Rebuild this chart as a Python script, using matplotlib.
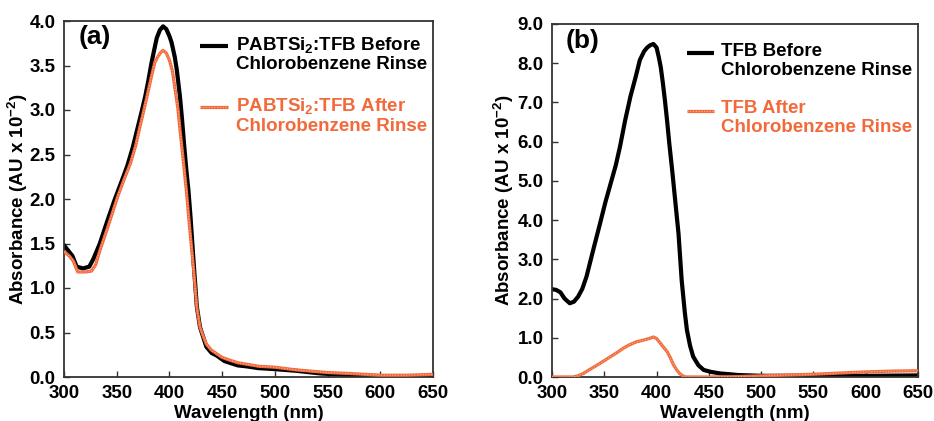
import matplotlib
matplotlib.use("Agg")
import matplotlib.pyplot as plt

plt.rcParams['font.family'] = ['Liberation Sans', 'DejaVu Sans']
plt.rcParams['font.weight'] = 'bold'
plt.rcParams['mathtext.fontset'] = 'custom'
plt.rcParams['mathtext.rm'] = 'Liberation Sans:bold'
plt.rcParams['mathtext.bf'] = 'Liberation Sans:bold'
plt.rcParams['mathtext.default'] = 'bf'

# ---------------- data ----------------
# Panel (a): PABTSi2:TFB
wl_a_before = [300, 304, 308, 312, 318, 324, 328, 334, 341, 348, 355, 360, 365, 369, 373, 377, 380, 383, 386, 388, 391, 394, 397, 400, 402, 405, 407, 410, 412, 414, 416, 418, 420, 423, 426, 429, 432, 435, 440, 445, 452, 457, 465, 473, 484, 498, 520, 543, 571, 600, 625, 650]
abs_a_before = [1.48, 1.42, 1.36, 1.24, 1.22, 1.24, 1.33, 1.50, 1.75, 1.99, 2.21, 2.37, 2.57, 2.76, 2.95, 3.15, 3.33, 3.53, 3.70, 3.81, 3.90, 3.94, 3.91, 3.83, 3.76, 3.60, 3.45, 3.15, 2.89, 2.60, 2.33, 2.10, 1.80, 1.28, 0.79, 0.56, 0.45, 0.34, 0.27, 0.24, 0.18, 0.16, 0.13, 0.12, 0.10, 0.09, 0.07, 0.04, 0.02, 0.01, 0.01, 0.01]
wl_a_after = [300, 305, 309, 313, 320, 326, 330, 334, 342, 351, 357, 363, 368, 372, 376, 380, 383, 386, 389, 392, 394, 397, 400, 403, 405, 408, 410, 413, 416, 419, 423, 426, 429, 432, 435, 440, 445, 450, 457, 465, 475, 485, 500, 520, 550, 570, 600, 625, 650]
abs_a_after = [1.41, 1.36, 1.30, 1.18, 1.18, 1.19, 1.26, 1.42, 1.70, 2.03, 2.22, 2.40, 2.60, 2.81, 3.01, 3.22, 3.38, 3.53, 3.60, 3.65, 3.67, 3.64, 3.56, 3.43, 3.26, 3.02, 2.78, 2.45, 2.10, 1.70, 1.20, 0.78, 0.56, 0.46, 0.37, 0.30, 0.26, 0.22, 0.19, 0.16, 0.14, 0.12, 0.11, 0.08, 0.05, 0.04, 0.02, 0.02, 0.03]

# Panel (b): TFB
wl_b_before = [300, 304, 308, 312, 317, 321, 325, 329, 333, 340, 346, 351, 357, 361, 365, 370, 375, 380, 384, 388, 391, 394, 397, 400, 402, 404, 406, 408, 410, 412, 415, 418, 421, 424, 427, 429, 432, 435, 440, 445, 452, 461, 470, 478, 490, 500, 550, 600, 650]
abs_b_before = [2.24, 2.22, 2.16, 2.00, 1.88, 1.92, 2.05, 2.25, 2.56, 3.30, 3.92, 4.45, 5.02, 5.40, 5.87, 6.55, 7.15, 7.65, 8.08, 8.30, 8.40, 8.46, 8.49, 8.40, 8.17, 7.90, 7.50, 7.05, 6.55, 6.00, 5.25, 4.45, 3.65, 2.47, 1.65, 1.20, 0.80, 0.52, 0.30, 0.18, 0.13, 0.09, 0.07, 0.05, 0.04, 0.03, 0.03, 0.03, 0.04]
wl_b_after = [300, 310, 320, 325, 330, 336, 343, 349, 356, 362, 368, 374, 381, 386, 390, 394, 397, 400, 403, 406, 410, 413, 416, 419, 422, 425, 428, 435, 450, 475, 500, 525, 550, 575, 600, 625, 650]
abs_b_after = [0.00, 0.00, 0.00, 0.03, 0.09, 0.19, 0.30, 0.40, 0.52, 0.62, 0.73, 0.82, 0.90, 0.93, 0.96, 0.99, 1.02, 0.98, 0.88, 0.78, 0.65, 0.50, 0.32, 0.19, 0.09, 0.03, 0.00, 0.00, 0.00, 0.01, 0.03, 0.05, 0.07, 0.10, 0.13, 0.15, 0.16]

xticks = [300, 350, 400, 450, 500, 550, 600, 650]
yticks_a = [0.0, 0.5, 1.0, 1.5, 2.0, 2.5, 3.0, 3.5, 4.0]
yticks_b = [0.0, 1.0, 2.0, 3.0, 4.0, 5.0, 6.0, 7.0, 8.0, 9.0]

labels_a = [r'PABTSi$_2$:TFB Before' + '\nChlorobenzene Rinse',
            r'PABTSi$_2$:TFB After' + '\nChlorobenzene Rinse']
labels_b = ['TFB Before\nChlorobenzene Rinse', 'TFB After\nChlorobenzene Rinse']

BLACK = '#000000'
ORANGE = '#f26a3b'
ORANGE_LIGHT = '#f9b08f'

W, H = 934, 421
fig = plt.figure(figsize=(W / 100, H / 100), dpi=100)
ax_a = fig.add_axes([64 / W, 1 - 377 / H, (433 - 64) / W, (377 - 21) / H])
ax_b = fig.add_axes([552 / W, 1 - 377 / H, (918 - 552) / W, (377 - 24) / H])


def style(ax, yticks, ymax, xlab_y, ylab_x):
    ax.set_xlim(300, 650)
    ax.set_ylim(0, ymax)
    ax.set_xticks(xticks)
    ax.set_xticklabels([str(v) for v in xticks])
    ax.set_yticks(yticks)
    ax.set_yticklabels(['%.1f' % v for v in yticks])
    ax.tick_params(axis='both', direction='in', length=4, width=1, labelsize=13.5, colors='#333333',
                   labelcolor='black')
    ax.tick_params(axis='x', pad=5.5)
    ax.tick_params(axis='y', pad=6)
    for lab in ax.get_xticklabels() + ax.get_yticklabels():
        lab.set_fontweight('bold')
    for s in ax.spines.values():
        s.set_linewidth(1.3)
        s.set_color('#333333')
    ax.set_xlabel('Wavelength (nm)', fontsize=13.5, fontweight='bold')
    ax.set_ylabel(r'Absorbance (AU x 10$^{-2}$)', fontsize=13.5, fontweight='bold')
    ax.xaxis.set_label_coords(0.5, xlab_y)
    ax.yaxis.set_label_coords(ylab_x, 0.5)


def orange_line(ax, x, y, **kw):
    ax.plot(x, y, color=ORANGE, lw=2.3, solid_capstyle='butt', zorder=3, **kw)
    ax.plot(x, y, color=ORANGE_LIGHT, lw=0.8, ls=(0, (1, 1.5)), zorder=4, **kw)


def legend_entry(ax, x0, x1, yline, ytext, label, color, orange=False):
    if orange:
        orange_line(ax, [x0, x1], [yline, yline], transform=ax.transAxes, clip_on=False)
    else:
        ax.plot([x0, x1], [yline, yline], color=color, lw=3, transform=ax.transAxes,
                clip_on=False, solid_capstyle='butt')
    ax.text(x1 + 0.02, ytext, label, color=color, transform=ax.transAxes, fontsize=13.5,
            fontweight='bold', va='top', ha='left', linespacing=1.15)


# Panel (a)
ax_a.plot(wl_a_before, abs_a_before, color=BLACK, lw=3, zorder=2)
orange_line(ax_a, wl_a_after, abs_a_after)
style(ax_a, yticks_a, 4.0, -0.079, -0.093)
legend_entry(ax_a, 0.369, 0.445, 0.930, 0.962, labels_a[0], BLACK)
legend_entry(ax_a, 0.369, 0.445, 0.758, 0.788, labels_a[1], ORANGE, orange=True)
ax_a.text(0.040, 0.988, '(a)', transform=ax_a.transAxes, fontsize=19, fontweight='bold', va='top', ha='left')

# Panel (b)
ax_b.plot(wl_b_before, abs_b_before, color=BLACK, lw=3, zorder=2)
orange_line(ax_b, wl_b_after, abs_b_after)
style(ax_b, yticks_b, 9.0, -0.080, -0.099)
legend_entry(ax_b, 0.368, 0.443, 0.917, 0.946, labels_b[0], BLACK)
legend_entry(ax_b, 0.368, 0.443, 0.7535, 0.784, labels_b[1], ORANGE, orange=True)
ax_b.text(0.036, 0.986, '(b)', transform=ax_b.transAxes, fontsize=19, fontweight='bold', va='top', ha='left')

fig.savefig('out.png', dpi=100)
